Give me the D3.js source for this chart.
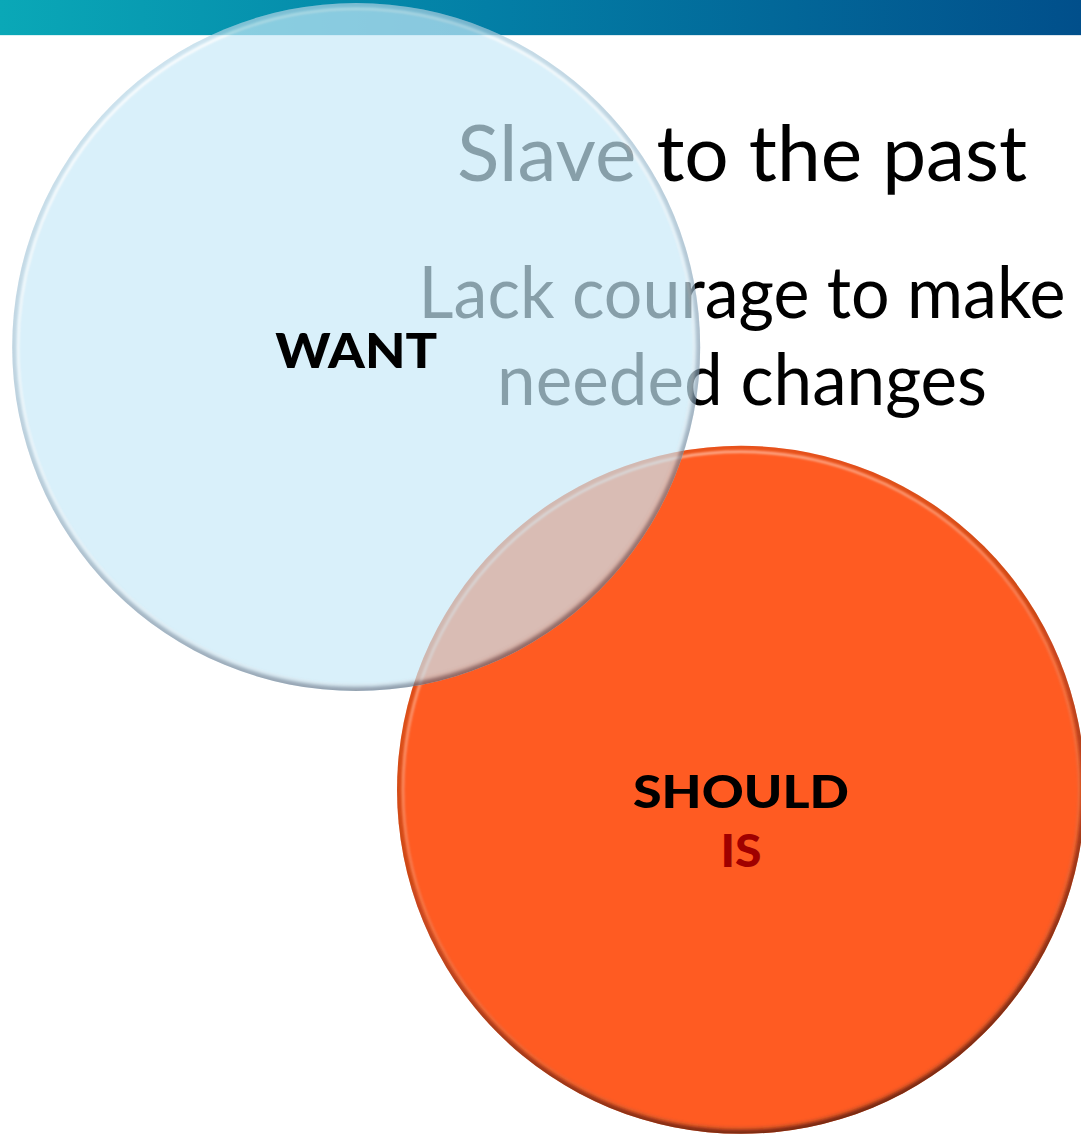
<!DOCTYPE html>
<html><head><meta charset="utf-8">
<script src="https://cdn.jsdelivr.net/npm/d3@7"></script>
<style>html,body{margin:0;padding:0;background:#fff;overflow:hidden}</style>
</head><body>
<svg id="chart" width="1081" height="1134"></svg>
<script>
// ---- data ----
const setNames = ["SHOULD", "WANT"];
const setSubLabels = [["SHOULD", "IS"], ["WANT"]];
const setSizes = [1, 1];
const noteLines = ["Slave to the past", "Lack courage to make", "needed changes"];

// ---- layout ----
const W = 1081, H = 1134;
const svg = d3.select("#chart");
const defs = svg.append("defs");

const x = d3.scaleLinear().domain([0, 10]).range([0, W]);
const y = d3.scaleLinear().domain([0, 10]).range([0, H]);
const rScale = d3.scaleSqrt().domain([0, 1]).range([0, 344]);

const centers = { WANT: [3.295, 3.06], SHOULD: [6.855, 6.965] };

// header bar gradient
const hg = defs.append("linearGradient").attr("id", "hdr").attr("x1", 0).attr("x2", 1);
hg.append("stop").attr("offset", 0).attr("stop-color", "#0aa8b7");
hg.append("stop").attr("offset", 0.45).attr("stop-color", "#037fa6");
hg.append("stop").attr("offset", 1).attr("stop-color", "#014f8b");
svg.append("rect").attr("x", 0).attr("y", 0).attr("width", W).attr("height", y(0.31)).attr("fill", "url(#hdr)");

const blur = defs.append("filter").attr("id", "soft").attr("x", "-10%").attr("y", "-10%").attr("width", "120%").attr("height", "120%");
blur.append("feGaussianBlur").attr("stdDeviation", 2.2);
const blur2 = defs.append("filter").attr("id", "soft2").attr("x", "-10%").attr("y", "-10%").attr("width", "120%").attr("height", "120%");
blur2.append("feGaussianBlur").attr("stdDeviation", 1.2);

const edgeL = (id, stops) => {
  const g = defs.append("linearGradient").attr("id", id).attr("x1", 0.3).attr("y1", 0).attr("x2", 0.7).attr("y2", 1);
  stops.forEach(s => g.append("stop").attr("offset", s[0]).attr("stop-color", s[1]).attr("stop-opacity", s[2] == null ? 1 : s[2]));
};
edgeL("orangeShadow", [[0, "#7a2a10", 0.15], [0.5, "#7a2a10", 0.45], [1, "#5a2010", 0.9]]);
edgeL("orangeHi", [[0, "#ffc6ac", 0.9], [0.5, "#ffb896", 0.35], [1, "#ff9a70", 0.1]]);
edgeL("blueShadow", [[0, "#5a7088", 0.15], [0.5, "#5a7088", 0.45], [1, "#4a5a70", 0.9]]);
edgeL("blueHi", [[0, "#ffffff", 0.95], [0.5, "#ffffff", 0.6], [1, "#ffffff", 0.15]]);

function bevelCircle(id, c, r, fill, shadow, hi) {
  const cx = x(c[0]), cy = y(c[1]);
  defs.append("clipPath").attr("id", "clip" + id).append("circle").attr("cx", cx).attr("cy", cy).attr("r", r);
  const g = svg.append("g");
  g.append("circle").attr("cx", cx).attr("cy", cy).attr("r", r).attr("fill", fill);
  const inner = g.append("g").attr("clip-path", `url(#clip${id})`);
  inner.append("circle").attr("cx", cx).attr("cy", cy).attr("r", r)
    .attr("fill", "none").attr("stroke", shadow).attr("stroke-width", 9).attr("filter", "url(#soft)");
  inner.append("circle").attr("cx", cx).attr("cy", cy).attr("r", r - 6)
    .attr("fill", "none").attr("stroke", hi).attr("stroke-width", 2.5).attr("filter", "url(#soft2)");
  return g;
}

// SHOULD circle (bottom)
bevelCircle("S", centers.SHOULD, rScale(setSizes[0]), "#ff5b22", "url(#orangeShadow)", "url(#orangeHi)");

// notes text (under WANT circle)
const noteSizes = [77, 71, 71];
const noteLens = [570, 647, 490];
const noteBase = [1.6, 2.805, 3.57];
svg.append("g").selectAll("text").data(noteLines).join("text")
  .attr("x", x(6.865)).attr("y", (d, i) => y(noteBase[i]))
  .attr("text-anchor", "middle")
  .attr("font-family", "Lato, 'Open Sans', sans-serif")
  .attr("font-size", (d, i) => noteSizes[i])
  .attr("textLength", (d, i) => noteLens[i])
  .attr("lengthAdjust", "spacingAndGlyphs")
  .attr("fill", "#000")
  .text(d => d);

// WANT circle (top, semi-transparent)
const wg = bevelCircle("W", centers.WANT, rScale(setSizes[1]), "#c8eaf9", "url(#blueShadow)", "url(#blueHi)");
wg.attr("opacity", 0.68);

// set labels
const wc = centers.WANT, sc = centers.SHOULD;
svg.append("text").attr("x", x(wc[0])).attr("y", y(3.245))
  .attr("text-anchor", "middle").attr("font-family", "Lato, sans-serif").attr("font-weight", 900)
  .attr("font-size", 48).attr("textLength", 162).attr("lengthAdjust", "spacingAndGlyphs")
  .attr("fill", "#000").text(setSubLabels[1][0]);

svg.append("text").attr("x", x(sc[0])).attr("y", y(7.125))
  .attr("text-anchor", "middle").attr("font-family", "Lato, sans-serif").attr("font-weight", 900)
  .attr("font-size", 45).attr("textLength", 216).attr("lengthAdjust", "spacingAndGlyphs")
  .attr("fill", "#000").text(setSubLabels[0][0]);
svg.append("text").attr("x", x(sc[0])).attr("y", y(7.645))
  .attr("text-anchor", "middle").attr("font-family", "Lato, sans-serif").attr("font-weight", 900)
  .attr("font-size", 45).attr("textLength", 41).attr("lengthAdjust", "spacingAndGlyphs")
  .attr("fill", "#a00000").text(setSubLabels[0][1]);
</script>
</body></html>
